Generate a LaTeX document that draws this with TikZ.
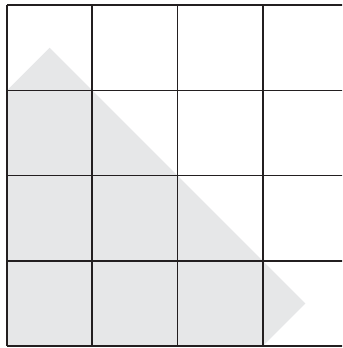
\documentclass[tikz,border=0pt]{standalone}
\usepackage{tikz}
\usepackage{xcolor}
\definecolor{stripgray}{HTML}{E6E7E8}
\definecolor{gridline}{HTML}{231F20}

\begin{document}
\begin{tikzpicture}[x=2cm,y=2cm]
  \useasboundingbox (-0.082,-0.023) rectangle (3.932,4.059);
  \clip (-0.082,-0.023) rectangle (3.932,4.059);
  \fill[stripgray] (0,0) -- (0,3) -- (0.5,3.5) -- (3.5,0.5) -- (3,0) -- cycle;
  \foreach \i in {0,...,4} {
    \draw[gridline,line width=1pt] (\i,0) -- (\i,4);
    \draw[gridline,line width=1pt] (0,\i) -- (4,\i);
  }
\end{tikzpicture}
\end{document}
